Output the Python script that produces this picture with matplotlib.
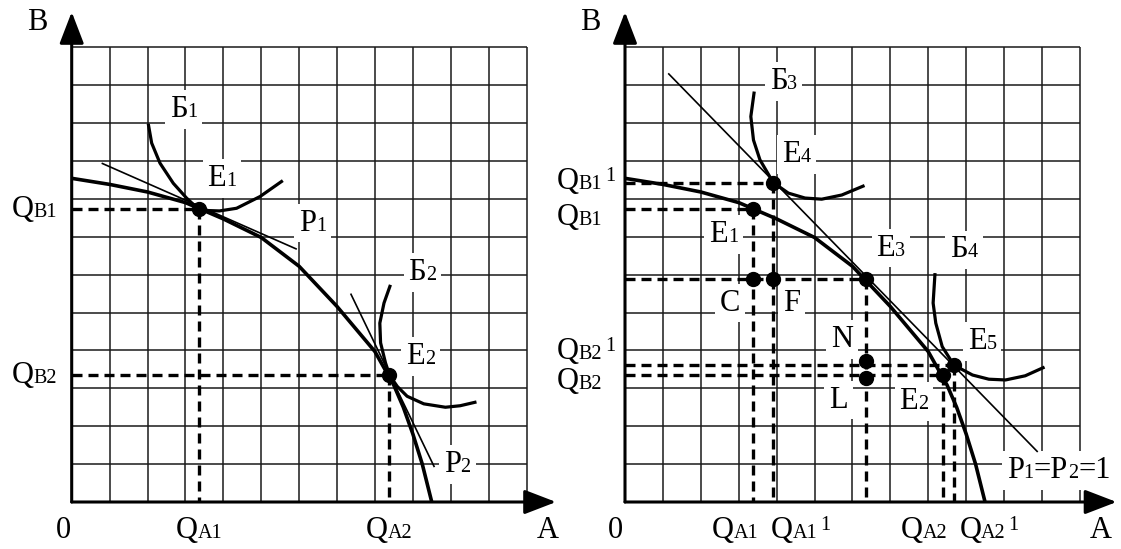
import matplotlib
matplotlib.use("Agg")
import matplotlib.pyplot as plt
from matplotlib.offsetbox import TextArea, HPacker, AnnotationBbox

plt.rcParams['font.family'] = ['Liberation Serif', 'DejaVu Serif']

# ---------------- data (grid units) ----------------
grid_ticks = list(range(13))

# production possibility frontier (same in both panels)
ppf_a = [0, 1, 2, 3, 4, 5, 6, 7, 8, 8.5, 8.75, 9.0, 9.25, 9.5]
ppf_b = [8.54, 8.38, 8.18, 7.9, 7.47, 6.98, 6.22, 5.16, 3.97, 3.08, 2.5, 1.8, 1.0, 0.0]

# left panel
ic1_a = [2.02, 2.11, 2.33, 2.68, 3.03, 3.2, 3.39, 3.6, 3.9, 4.35, 4.97, 5.57]
ic1_b = [9.98, 9.47, 8.94, 8.41, 8.02, 7.86, 7.74, 7.69, 7.68, 7.75, 8.06, 8.48]
p1_a = [0.79, 5.94]
p1_b = [8.94, 6.67]
ic2_a = [8.41, 8.24, 8.13, 8.15, 8.28, 8.39, 8.59, 8.85, 9.29, 9.86, 10.25, 10.68]
ic2_b = [5.73, 5.25, 4.72, 4.2, 3.67, 3.34, 3.05, 2.79, 2.59, 2.5, 2.54, 2.64]
p2_a = [7.36, 9.57]
p2_b = [5.5, 0.92]
left_eq_a = [3.37, 8.38]          # E1, E2
left_eq_b = [7.72, 3.34]

# right panel
price_a = [1.14, 10.89]
price_b = [11.31, 1.32]
ic3_a = [3.41, 3.32, 3.39, 3.56, 3.91, 4.31, 4.75, 5.19, 5.72, 6.32]
ic3_b = [10.83, 10.17, 9.55, 9.03, 8.43, 8.15, 8.02, 7.99, 8.1, 8.35]
ic4_a = [8.18, 8.13, 8.2, 8.37, 8.68, 9.17, 9.6, 10.04, 10.56, 11.07]
ic4_b = [6.04, 5.25, 4.72, 4.1, 3.61, 3.35, 3.24, 3.22, 3.33, 3.56]
right_guide_a = [3.9, 3.37, 6.37, 8.68, 8.38]   # E4, E1, E3, E5, E2
right_guide_b = [8.43, 7.72, 5.88, 3.61, 3.34]
right_dot_a = [3.37, 3.9, 3.37, 3.9, 6.37, 6.37, 6.37, 8.38, 8.68]  # E1,E4,C,F,E3,N,L,E2,E5
right_dot_b = [7.72, 8.43, 5.88, 5.88, 5.88, 3.72, 3.26, 3.34, 3.61]

# ---------------- layout ----------------
W, H = 1121, 549
CELL = 37.9
fig = plt.figure(figsize=(W / 100, H / 100), dpi=100)


def make_ax(x0px, x1px, origin_px, base_px=502.0):
    ax = fig.add_axes([x0px / W, 0, (x1px - x0px) / W, 1])
    ax.set_xlim((x0px - origin_px) / CELL, (x1px - origin_px) / CELL)
    ax.set_ylim((base_px - H) / CELL, base_px / CELL)
    ax.axis('off')
    return ax


axL = make_ax(0, 560, 71.7)
axR = make_ax(560, 1121, 625.0)

GRID_KW = dict(color='#1a1a1a', lw=1.1, zorder=1)
DASH_KW = dict(color='black', lw=2.4, linestyle=(0, (3.0, 1.8)), zorder=3)
FS = 22
SUB = 14.5


def base(ax, xtip, ytip):
    ax.vlines(grid_ticks[1:], 0, grid_ticks[-1], **GRID_KW)
    ax.hlines(grid_ticks[1:], 0, grid_ticks[-1], **GRID_KW)
    arr = dict(arrowstyle='-|>,head_length=0.65,head_width=0.25', lw=2.2,
               color='black', shrinkA=0, shrinkB=0, mutation_scale=30)
    ax.annotate('', xy=(0, ytip), xytext=(0, 0), arrowprops=arr, zorder=5)
    ax.annotate('', xy=(xtip, 0), xytext=(0, 0), arrowprops=arr, zorder=5)


def lab(ax, x, y, text, sub='', tail=(), sup='', box=True, ha='center'):
    """text + baseline subscript (+ more pieces) + optional superscript."""
    parts = [TextArea(text, textprops=dict(fontsize=FS))]
    if sub:
        parts.append(TextArea(sub, textprops=dict(fontsize=SUB)))
    for t, small in tail:
        parts.append(TextArea(t, textprops=dict(fontsize=SUB if small else FS)))
    pk = HPacker(children=parts, align='baseline', pad=0, sep=0)
    if sup:
        pk = HPacker(children=[pk, TextArea(sup, textprops=dict(fontsize=SUB))],
                     align='top', pad=0, sep=2)
    bx = 0.5 if ha == 'center' else 0.0
    ab = AnnotationBbox(pk, (x, y), xycoords='data', box_alignment=(bx, 0.5),
                        frameon=box, pad=0.35,
                        bboxprops=dict(facecolor='white', edgecolor='none'),
                        annotation_clip=False, zorder=2.5)
    ax.add_artist(ab)


def curve(ax, xs, ys, lw):
    ax.plot(xs, ys, color='black', lw=lw, solid_joinstyle='round',
            solid_capstyle='butt', zorder=4)


def guides(ax, xs, ys):
    for x, y in zip(xs, ys):
        ax.plot([0, x], [y, y], **DASH_KW)
        ax.plot([x, x], [y, 0], **DASH_KW)


# ---- left panel ----
base(axL, 12.78, 12.93)
curve(axL, ppf_a, ppf_b, 2.6)
curve(axL, ic1_a, ic1_b, 2.3)
curve(axL, ic2_a, ic2_b, 2.3)
curve(axL, p1_a, p1_b, 1.2)
curve(axL, p2_a, p2_b, 1.2)
guides(axL, left_eq_a, left_eq_b)
axL.plot(left_eq_a, left_eq_b, 'o', color='black', ms=10, zorder=6)

lab(axL, -0.92, 12.66, 'B', box=False)
lab(axL, -0.23, -0.74, '0', box=False)
lab(axL, 12.57, -0.74, 'A', box=False)
lab(axL, left_eq_a[0], -0.74, 'Q', 'A1', box=False)
lab(axL, left_eq_a[1], -0.74, 'Q', 'A2', box=False)
lab(axL, -1.58, left_eq_b[0], 'Q', 'B1', box=False, ha='left')
lab(axL, -1.58, left_eq_b[1], 'Q', 'B2', box=False, ha='left')
lab(axL, 2.95, 10.35, 'Б', '1')
lab(axL, 3.96, 8.54, 'E', '1')
lab(axL, 6.35, 7.36, 'P', '1')
lab(axL, 9.25, 6.05, 'Б', '2')
lab(axL, 9.2, 3.84, 'E', '2')
lab(axL, 10.17, 0.98, 'P', '2')

# ---- right panel ----
base(axR, 12.97, 12.93)
curve(axR, ppf_a, ppf_b, 2.6)
curve(axR, ic3_a, ic3_b, 2.3)
curve(axR, ic4_a, ic4_b, 2.3)
curve(axR, price_a, price_b, 1.2)
guides(axR, right_guide_a, right_guide_b)
axR.plot(right_dot_a, right_dot_b, 'o', color='black', ms=10, zorder=6)

lab(axR, -0.92, 12.66, 'B', box=False)
lab(axR, -0.26, -0.74, '0', box=False)
lab(axR, 12.55, -0.74, 'A', box=False)
lab(axR, 2.3, -0.74, 'Q', 'A1', box=False, ha='left')
lab(axR, 3.85, -0.74, 'Q', 'A1', sup='1', box=False, ha='left')
lab(axR, 7.27, -0.74, 'Q', 'A2', box=False, ha='left')
lab(axR, 8.82, -0.74, 'Q', 'A2', sup='1', box=False, ha='left')
lab(axR, -1.8, 8.45, 'Q', 'B1', sup='1', box=False, ha='left')
lab(axR, -1.8, 7.5, 'Q', 'B1', box=False, ha='left')
lab(axR, -1.8, 3.97, 'Q', 'B2', sup='1', box=False, ha='left')
lab(axR, -1.8, 3.18, 'Q', 'B2', box=False, ha='left')
lab(axR, 4.18, 11.09, 'Б', '3')
lab(axR, 4.53, 9.16, 'E', '4')
lab(axR, 2.6, 7.05, 'E', '1')
lab(axR, 7.01, 6.7, 'E', '3')
lab(axR, 8.94, 6.65, 'Б', '4')
lab(axR, 2.77, 5.25, 'C')
lab(axR, 4.4, 5.25, 'F')
lab(axR, 5.72, 4.28, 'N')
lab(axR, 5.63, 2.69, 'L')
lab(axR, 9.42, 4.24, 'E', '5')
lab(axR, 7.62, 2.65, 'E', '2')
lab(axR, 11.44, 0.84, 'P', '1', tail=(('=P', False), ('2', True), ('=1', False)))

fig.savefig('out.png', dpi=100)
